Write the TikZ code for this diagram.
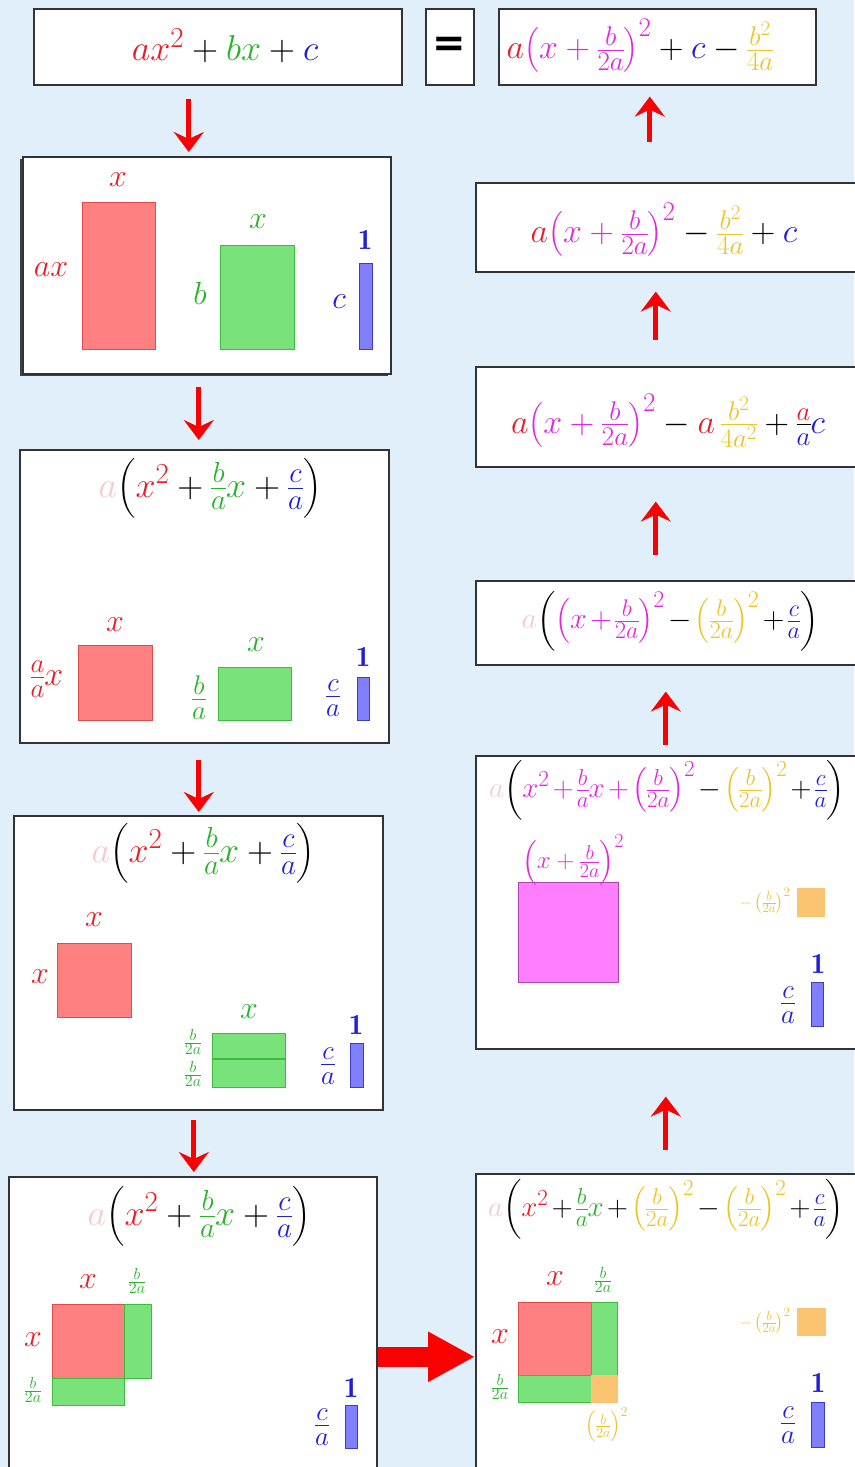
\RequirePackage{fix-cm}
\documentclass[tikz,border=0pt]{standalone}
\usepackage{amsmath}
\usepackage{fontspec}
\newfontfamily\eqfont{DejaVu Sans}
\usetikzlibrary{arrows.meta,calc,positioning,shadows}
\definecolor{bgblue}{RGB}{225,239,251}
\definecolor{termred}{RGB}{232,30,40}
\definecolor{termgreen}{RGB}{40,180,40}
\definecolor{termblue}{RGB}{30,30,220}
\definecolor{termpink}{RGB}{225,40,225}
\definecolor{termgold}{RGB}{236,196,40}
\definecolor{fadea}{RGB}{246,202,208}
\definecolor{fillred}{RGB}{255,128,128}
\definecolor{edgered}{RGB}{225,75,75}
\definecolor{fillgreen}{RGB}{122,226,122}
\definecolor{edgegreen}{RGB}{60,190,60}
\definecolor{fillblue}{RGB}{128,128,255}
\definecolor{edgeblue}{RGB}{60,60,200}
\definecolor{fillpink}{RGB}{255,125,255}
\definecolor{edgepink}{RGB}{175,70,175}
\definecolor{fillgold}{RGB}{250,196,112}
\definecolor{arrowred}{RGB}{250,0,0}
\newcommand\tred[1]{\textcolor{termred}{#1}}
\newcommand\tgrn[1]{\textcolor{termgreen}{#1}}
\newcommand\tblu[1]{\textcolor{termblue}{#1}}
\newcommand\tpnk[1]{\textcolor{termpink}{#1}}
\newcommand\tgld[1]{\textcolor{termgold}{#1}}
\newcommand\tfad[1]{\textcolor{fadea}{#1}}
\newcommand\fsz[1]{\fontsize{#1}{#1}\selectfont}
\newcommand\tightmath{\medmuskip=2mu\relax}
\newcommand\halfb{\frac{b}{2a}}
% larger fractions and exponents, as in the reference
\DeclareMathSizes{37}{37}{30}{23}
\DeclareMathSizes{36}{36}{29}{22}
\DeclareMathSizes{34}{34}{27}{21}
\DeclareMathSizes{32}{32}{26}{20}
\DeclareMathSizes{30}{30}{24}{18}
\DeclareMathSizes{29}{29}{23}{18}
\DeclareMathSizes{25}{25}{20}{15}
\DeclareMathSizes{20}{20}{16}{12}
\DeclareMathSizes{18}{18}{14}{11}
\DeclareMathSizes{16}{16}{13}{10}
\nulldelimiterspace=0pt
\tikzset{
  every node/.style={inner sep=0pt},
  panel/.style={draw=black!80, line width=1.6pt, fill=white, anchor=north west},
  big formula/.style={font=\fsz{36}},
  formula/.style={font=\fsz{34}},
  mid formula/.style={font=\fsz{36}},
  wide formula/.style={font=\fsz{29}, execute at begin node=\tightmath},
  tag/.style={font=\fsz{32}},
  unit tag/.style={font=\fsz{29}, termblue},
  ratio tag/.style={font=\fsz{34}},
  half tag/.style={font=\fsz{20}, termgreen},
  tiny tag/.style={font=\fsz{16}, termgold},
  red area/.style={draw=edgered, fill=fillred, line width=1pt},
  green area/.style={draw=edgegreen, fill=fillgreen, line width=1pt},
  blue area/.style={draw=edgeblue, fill=fillblue, line width=1pt},
  pink area/.style={draw=edgepink, fill=fillpink, line width=1pt},
  gold area/.style={draw=fillgold, fill=fillgold, line width=1pt},
  move arrow/.style={draw=arrowred, line width=5pt, -{Stealth[length=20pt,width=30pt,inset=7pt]}},
  big arrow/.style={draw=arrowred, line width=20pt, -{Triangle[length=47pt,width=47pt]}}
}

\begin{document}
\begin{tikzpicture}[x=1pt, y=-1pt]
  \useasboundingbox[fill=bgblue] (0,0) rectangle (854,1467);

  % top row
  \node[panel, minimum width=368, minimum height=76] (start) at (33,8) {};
  \node[panel, minimum width=48, minimum height=76] (equal) at (425,8) {};
  \node[panel, minimum width=317, minimum height=76] (result) at (498,8) {};
  \node[big formula] (startf) at (225,46) {$\tred{ax^2}+\tgrn{bx}+\tblu{c}$};
  \node[font=\fsz{40}\eqfont\bfseries] (equalf) at (449,47) {=};
  \node[formula] (resultf) at (640,46)
    {$\tred{a}\tpnk{\left(x+\halfb\right)^{2}}+\tblu{c}-\tgld{\frac{b^2}{4a}}$};

  % left column
  \node[panel, minimum width=368, minimum height=217,
    drop shadow={shadow xshift=-3pt, shadow yshift=-2pt, fill=black!75, opacity=1}] (rects) at (22,156) {};
  \node[panel, minimum width=369, minimum height=293] (divided) at (19,449) {};
  \node[panel, minimum width=369, minimum height=294] (halved) at (13,815) {};
  \node[panel, minimum width=368, minimum height=320] (moved) at (8,1176) {};

  % right column
  \node[panel, minimum width=400, minimum height=320] (completed) at (475,1173) {};
  \node[panel, minimum width=400, minimum height=293] (square) at (475,755) {};
  \node[panel, minimum width=400, minimum height=84] (grouped) at (475,580) {};
  \node[panel, minimum width=400, minimum height=100] (expanded) at (475,366) {};
  \node[panel, minimum width=400, minimum height=89] (simplified) at (475,182) {};

  % ax^2, bx and c as areas
  \draw[red area] (82,202) rectangle (155,349);
  \draw[green area] (220,245) rectangle (294,349);
  \draw[blue area] (359,263) rectangle (372,349);
  \node[tag, termred] (ax top) at (118,180) {$x$};
  \node[tag, termred] (ax side) at (51,270) {$ax$};
  \node[tag, termgreen] (bx top) at (258,222) {$x$};
  \node[tag, termgreen] (bx side) at (200,293) {$b$};
  \node[unit tag] (c top) at (365,240) {$\mathbf{1}$};
  \node[tag, termblue] (c side) at (339,302) {$c$};

  % divided by a
  \node[mid formula] (dividedf) at (210,488)
    {$\tfad{a}\!\left(\tred{x^2}+\tgrn{\frac{b}{a}x}+\tblu{\frac{c}{a}}\right)$};
  \draw[red area] (78,645) rectangle (152,720);
  \draw[green area] (218,667) rectangle (291,720);
  \draw[blue area] (357,677) rectangle (369,720);
  \node[tag, termred] (dx top) at (115,625) {$x$};
  \node[ratio tag, termred] (dx side) at (47,679) {$\frac{a}{a}x$};
  \node[tag, termgreen] (db top) at (256,645) {$x$};
  \node[ratio tag, termgreen] (db side) at (199,698) {$\frac{b}{a}$};
  \node[unit tag] (dc top) at (363,657) {$\mathbf{1}$};
  \node[ratio tag, termblue] (dc side) at (333,698) {$\frac{c}{a}$};

  % bx split in two halves
  \node[mid formula] (halvedf) at (203,853)
    {$\tfad{a}\!\left(\tred{x^2}+\tgrn{\frac{b}{a}x}+\tblu{\frac{c}{a}}\right)$};
  \draw[red area] (57,943) rectangle (131,1017);
  \draw[green area] (212,1033) rectangle (285,1087);
  \draw[edgegreen, line width=1.5pt] (212,1059) -- (285,1059);
  \draw[blue area] (350,1043) rectangle (363,1087);
  \node[tag, termred] (hx top) at (94,920) {$x$};
  \node[tag, termred] (hx side) at (40,977) {$x$};
  \node[tag, termgreen] (hb top) at (249,1012) {$x$};
  \node[half tag] (hb upper) at (193,1042) {$\halfb$};
  \node[half tag] (hb lower) at (193,1074) {$\halfb$};
  \node[unit tag] (hc top) at (356,1025) {$\mathbf{1}$};
  \node[ratio tag, termblue] (hc side) at (328,1066) {$\frac{c}{a}$};

  % halves moved round the square
  \node[mid formula] (movedf) at (199,1216)
    {$\tfad{a}\!\left(\tred{x^2}+\tgrn{\frac{b}{a}x}+\tblu{\frac{c}{a}}\right)$};
  \draw[red area] (52,1304) rectangle (124,1378);
  \draw[green area] (124,1304) rectangle (151,1378);
  \draw[green area] (52,1378) rectangle (124,1405);
  \draw[blue area] (345,1405) rectangle (357,1448);
  \node[tag, termred] (mx top) at (88,1282) {$x$};
  \node[tag, termred] (mx side) at (33,1340) {$x$};
  \node[half tag] (mb top) at (137,1281) {$\halfb$};
  \node[half tag] (mb side) at (33,1390) {$\halfb$};
  \node[unit tag] (mc top) at (351,1388) {$\mathbf{1}$};
  \node[ratio tag, termblue] (mc side) at (322,1427) {$\frac{c}{a}$};

  % corner added and taken away
  \node[wide formula] (completedf) at (666,1209)
    {$\tfad{a}\!\left(\tred{x^2}+\tgrn{\frac{b}{a}x}+\tgld{\left(\halfb\right)^{2}}-\tgld{\left(\halfb\right)^{2}}+\tblu{\frac{c}{a}}\right)$};
  \draw[red area] (518,1302) rectangle (591,1375);
  \draw[green area] (591,1302) rectangle (617,1375);
  \draw[green area] (518,1375) rectangle (591,1402);
  \draw[gold area] (591,1375) rectangle (617,1402);
  \draw[gold area] (797,1308) rectangle (825,1335);
  \draw[blue area] (811,1402) rectangle (824,1447);
  \node[tag, termred] (cx top) at (555,1279) {$x$};
  \node[tag, termred] (cx side) at (500,1337) {$x$};
  \node[half tag] (cb top) at (603,1280) {$\halfb$};
  \node[half tag] (cb side) at (500,1387) {$\halfb$};
  \node[tiny tag, font=\fsz{18}] (corner) at (607,1425) {$\left(\halfb\right)^{2}$};
  \node[tiny tag] (cut) at (765,1321) {$-\left(\halfb\right)^{2}$};
  \node[unit tag] (cc top) at (818,1383) {$\mathbf{1}$};
  \node[ratio tag, termblue] (cc side) at (788,1425) {$\frac{c}{a}$};

  % the perfect square
  \node[wide formula] (squaref) at (667,790)
    {$\tfad{a}\!\left(\tpnk{x^2+\frac{b}{a}x+\left(\halfb\right)^{2}}-\tgld{\left(\halfb\right)^{2}}+\tblu{\frac{c}{a}}\right)$};
  \draw[pink area] (518,882) rectangle (618,982);
  \draw[gold area] (797,888) rectangle (824,916);
  \draw[blue area] (811,982) rectangle (823,1026);
  \node[font=\fsz{25}, termpink] (sq top) at (573,860) {$\left(x+\halfb\right)^{2}$};
  \node[tiny tag] (sq cut) at (765,901) {$-\left(\halfb\right)^{2}$};
  \node[unit tag] (sc top) at (818,964) {$\mathbf{1}$};
  \node[ratio tag, termblue] (sc side) at (788,1005) {$\frac{c}{a}$};

  % algebra only
  \node[wide formula, font=\fsz{30}] (groupedf) at (670,621)
    {$\tfad{a}\!\left(\tpnk{\left(x+\halfb\right)^{2}}-\tgld{\left(\halfb\right)^{2}}+\tblu{\frac{c}{a}}\right)$};
  \node[formula] (expandedf) at (668,421)
    {$\tred{a}\tpnk{\left(x+\halfb\right)^{2}}-\tred{a}\,\tgld{\frac{b^2}{4a^2}}+\frac{\tred{a}}{\tblu{a}}\tblu{c}$};
  \node[formula] (simplifiedf) at (664,230)
    {$\tred{a}\tpnk{\left(x+\halfb\right)^{2}}-\tgld{\frac{b^2}{4a}}+\tblu{c}$};

  % steps
  \draw[move arrow, shorten <=13pt, shorten >=4pt]
    ([xshift=-29pt]start.south) -- ([xshift=-29pt]start.south |- rects.north);
  \draw[move arrow, shorten <=12pt, shorten >=9pt]
    ([xshift=-8pt]rects.south) -- ([xshift=-8pt]rects.south |- divided.north);
  \draw[move arrow, shorten <=16pt, shorten >=3pt]
    ([xshift=-5.5pt]divided.south) -- ([xshift=-5.5pt]divided.south |- halved.north);
  \draw[move arrow, shorten <=9pt, shorten >=4pt]
    ([xshift=-4.5pt]halved.south) -- ([xshift=-4.5pt]halved.south |- moved.north);
  \draw[big arrow]
    ([yshift=-20pt]moved.east) -- ([yshift=-20pt]moved.east -| completed.west);
  \draw[move arrow, shorten <=23pt, shorten >=47pt]
    ([xshift=-10pt]completed.north) -- ([xshift=-10pt]completed.north |- square.south);
  \draw[move arrow, shorten <=10pt, shorten >=26pt]
    ([xshift=-10pt]square.north) -- ([xshift=-10pt]square.north |- grouped.south);
  \draw[move arrow, shorten <=25pt, shorten >=34pt]
    ([xshift=-20pt]grouped.north) -- ([xshift=-20pt]grouped.north |- expanded.south);
  \draw[move arrow, shorten <=26pt, shorten >=19pt]
    ([xshift=-20pt]expanded.north) -- ([xshift=-20pt]expanded.north |- simplified.south);
  \draw[move arrow, shorten <=40pt, shorten >=11pt]
    ([xshift=-26pt]simplified.north) -- ([xshift=-26pt]simplified.north |- result.south);
\end{tikzpicture}
\end{document}
